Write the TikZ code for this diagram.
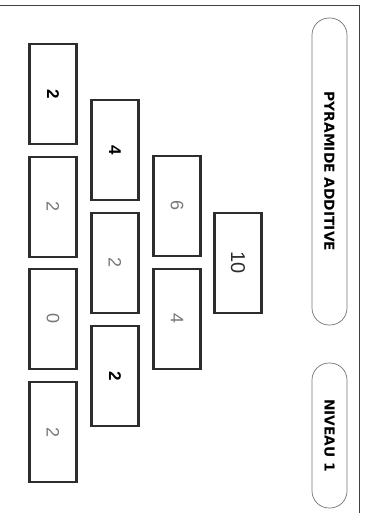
\documentclass[tikz,border=0pt]{standalone}
\usepackage{fontspec}
\setmainfont{Liberation Sans}
\newfontfamily\titlefont{DejaVu Sans}
\usepackage{xcolor}
\usepackage{tikz}
\usetikzlibrary{positioning}
\definecolor{ink}{RGB}{45,45,45}
\definecolor{faint}{RGB}{120,120,120}

\begin{document}
\begin{tikzpicture}[
  x=1pt, y=-1pt,
  brick/.style={draw=ink, line width=2.2pt, rotate=-90, minimum width=100pt, minimum height=47pt,
                inner sep=0pt, fill=white},
  given/.style={brick, font=\fontsize{17}{17}\selectfont\bfseries, text=black},
  blank/.style={brick, font=\fontsize{18}{18}\selectfont, text=faint},
  pill/.style={draw=black!55, line width=0.7pt, rotate=-90, rounded corners=17pt,
               minimum height=35pt, inner sep=0pt,
               font=\titlefont\fontsize{13.8}{13.8}\selectfont\bfseries}
]
  \useasboundingbox (0,0) rectangle (367,513);

  % sheet edge
  \draw[black!75, line width=0.9pt] (0,5) -- (359,5) -- (359,513);

  % headings
  \node[pill, minimum width=307pt] (title) at (329.5,171.5) {PYRAMIDE ADDITIVE};
  \node[pill, minimum width=145pt] (level) at (329.5,435.5) {NIVEAU 1};

  % base row
  \node[given] (a1) at (53,94)  {2};
  \node[blank] (a2) at (53,207) {2};
  \node[blank] (a3) at (53,319) {0};
  \node[blank] (a4) at (53,432) {2};

  % second row
  \node[given] (b1) at (115,150) {4};
  \node[blank] (b2) at (115,263) {2};
  \node[given] (b3) at (115,376) {2};

  % third row
  \node[blank] (c1) at (177,206) {6};
  \node[blank] (c2) at (177,319) {4};

  % top
  \node[brick, font=\fontsize{20}{20}\selectfont, text=ink] (d1) at (238,263) {10};
\end{tikzpicture}
\end{document}
